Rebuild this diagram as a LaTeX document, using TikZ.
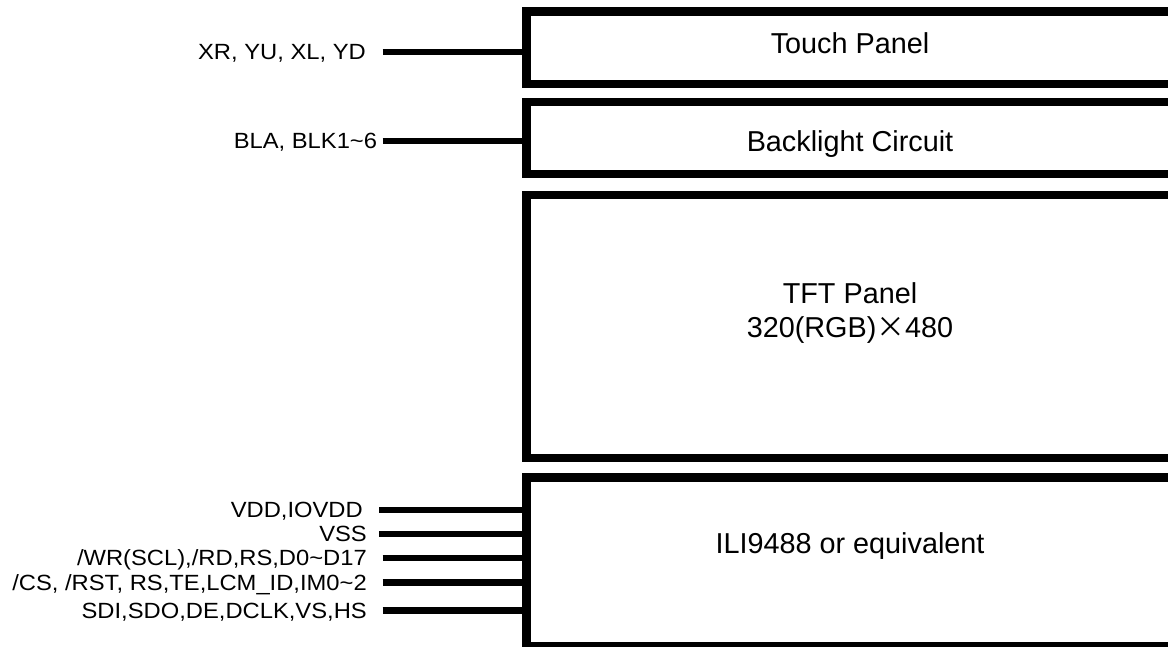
\documentclass[tikz,border=0pt]{standalone}
\usepackage{fontspec}
\setmainfont{Liberation Sans}
\newfontfamily\lblfont[FakeStretch=1.08]{Liberation Sans}
\newfontfamily\cjkfont[CharacterWidth=Full]{Noto Sans CJK SC}
\begin{document}
\begin{tikzpicture}[x=1pt,y=-1pt,
  panel/.style={draw, line width=8.3pt, minimum width=700pt, anchor=north west, outer sep=0pt, inner sep=0pt},
  conn/.style={line width=6.7pt},
  lbl/.style={font=\lblfont\fontsize{22}{24}\selectfont, anchor=east, text height=15.5pt, text depth=0pt, inner ysep=0pt},
  ttl/.style={font=\fontsize{28.8}{34}\selectfont, inner sep=0pt}]
\useasboundingbox (0,0) rectangle (1168,646);
\clip (0,0) rectangle (1168,646);
% panels
\node[panel, minimum height=72.5pt] (tp) at (526.5,11.5) {};
\node[panel, minimum height=72.3pt] (bl) at (526.5,102) {};
\node[panel, minimum height=263pt] (tft) at (526.5,195) {};
\node[panel, minimum height=168.5pt] (ic) at (526.5,477.5) {};
% panel titles
\node[ttl, anchor=base] (tpt) at (850,53.3) {Touch Panel};
\node[ttl, align=center, anchor=base] (blt) at (850,151.5) {Backlight Circuit};
\node[ttl, align=center, anchor=center] (tftt) at (850,313) {TFT Panel\\320(RGB){\cjkfont ×}480};
\node[ttl, anchor=base] (ict) at (850,553.3) {ILI9488 or equivalent};
% signal labels
\node[lbl, inner xsep=16.7pt] (xr) at (382.7,52) {XR, YU, XL, YD};
\node[lbl, inner xsep=5.4pt] (bla) at (382.7,141) {BLA, BLK1\textasciitilde6};
\node[lbl, inner xsep=16.3pt] (vdd) at (379.3,510) {VDD,IOVDD};
\node[lbl, inner xsep=12.3pt] (vss) at (379.3,534) {VSS};
\node[lbl, inner xsep=15.7pt] (wr) at (382.7,558) {/WR(SCL),/RD,RS,D0\textasciitilde D17};
\node[lbl, inner xsep=15.7pt] (cs) at (382.7,582.7) {/CS, /RST, RS,TE,LCM\_ID,IM0\textasciitilde2};
\node[lbl, inner xsep=15.7pt] (sdi) at (382.7,610.7) {SDI,SDO,DE,DCLK,VS,HS};
% connectors
\draw[conn] (xr.east) -- (xr.east -| tp.west);
\draw[conn] (bla.east) -- (bla.east -| bl.west);
\foreach \s in {vdd,vss,wr,cs,sdi}
  \draw[conn] (\s.east) -- (\s.east -| ic.west);
\end{tikzpicture}
\end{document}
